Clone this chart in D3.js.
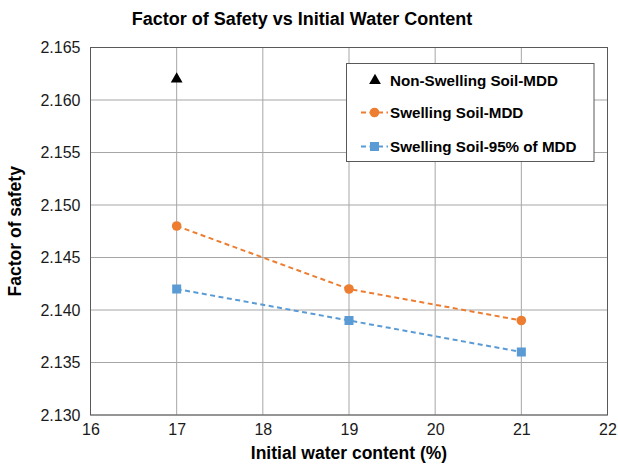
<!DOCTYPE html>
<html>
<head>
<meta charset="utf-8">
<script src="https://cdn.jsdelivr.net/npm/d3@7/dist/d3.min.js"></script>
<style>
  html, body { margin: 0; padding: 0; background: #fff; }
  svg { display: block; font-family: "Liberation Sans", Arial, sans-serif; }
</style>
</head>
<body>
<svg id="chart" width="618" height="466"></svg>
<script>
// Initial water content (%) at which each case was analysed
const waterContent = [17, 19, 21];
// Factor of safety for each soil case
const nonSwellingMDD = [2.162];          // only at 17 %
const swellingMDD = [2.148, 2.142, 2.139];
const swelling95MDD = [2.142, 2.139, 2.136];

const xTicks = [16, 17, 18, 19, 20, 21, 22];
const yTicks = [2.130, 2.135, 2.140, 2.145, 2.150, 2.155, 2.160, 2.165];

const seriesNames = ["Non-Swelling Soil-MDD", "Swelling Soil-MDD", "Swelling Soil-95% of MDD"];
const seriesColors = ["#000000", "#ED7D31", "#5B9BD5"];

const svg = d3.select("#chart");
const margin = { left: 90.5, right: 618 - 607.5, top: 47.5, bottom: 466 - 415 };
const W = 618, H = 466;

const x = d3.scaleLinear().domain([16, 22]).range([margin.left, W - margin.right]);
const y = d3.scaleLinear().domain([2.130, 2.165]).range([H - margin.bottom, margin.top]);

// grid lines
const grid = svg.append("g");
grid.selectAll("line.h").data(yTicks).join("line")
  .attr("x1", x(16)).attr("x2", x(22))
  .attr("y1", d => y(d)).attr("y2", d => y(d))
  .attr("stroke", "#a6a6a6").attr("stroke-width", 1);
grid.selectAll("line.v").data(xTicks).join("line")
  .attr("x1", d => x(d)).attr("x2", d => x(d))
  .attr("y1", y(2.130)).attr("y2", y(2.165))
  .attr("stroke", "#a6a6a6").attr("stroke-width", 1);

// plot border
svg.append("rect")
  .attr("x", x(16)).attr("y", y(2.165))
  .attr("width", x(22) - x(16)).attr("height", y(2.130) - y(2.165))
  .attr("fill", "none").attr("stroke", "#595959").attr("stroke-width", 1);

// axes
const xAxis = d3.axisBottom(x).tickValues(xTicks).tickSize(0).tickPadding(9).tickFormat(d3.format("d"));
const yAxis = d3.axisLeft(y).tickValues(yTicks).tickSize(0).tickPadding(10).tickFormat(d3.format(".3f"));

const gx = svg.append("g").attr("transform", `translate(0,${y(2.130)})`).call(xAxis);
const gy = svg.append("g").attr("transform", `translate(${x(16)},0)`).call(yAxis);
[gx, gy].forEach(g => {
  g.select(".domain").remove();
  g.selectAll("text").attr("font-size", 16).attr("fill", "#1a1a1a")
    .attr("font-family", "Liberation Sans, Arial, sans-serif");
});

// series lines
const line = d3.line().x(d => x(d[0])).y(d => y(d[1]));
const sMDD = waterContent.map((w, i) => [w, swellingMDD[i]]);
const s95 = waterContent.map((w, i) => [w, swelling95MDD[i]]);

svg.append("path").datum(sMDD).attr("d", line)
  .attr("fill", "none").attr("stroke", seriesColors[1]).attr("stroke-width", 2)
  .attr("stroke-dasharray", "5,3.5");
svg.append("path").datum(s95).attr("d", line)
  .attr("fill", "none").attr("stroke", seriesColors[2]).attr("stroke-width", 2)
  .attr("stroke-dasharray", "5,3.5");

// markers
const tri = d3.symbol().type(d3.symbolTriangle).size(60);
svg.append("g").selectAll("path").data(nonSwellingMDD).join("path")
  .attr("d", tri)
  .attr("transform", (d, i) => `translate(${x(waterContent[i])},${y(d)})`)
  .attr("fill", seriesColors[0]);

svg.append("g").selectAll("circle").data(sMDD).join("circle")
  .attr("cx", d => x(d[0])).attr("cy", d => y(d[1])).attr("r", 4.8)
  .attr("fill", seriesColors[1]);

svg.append("g").selectAll("rect").data(s95).join("rect")
  .attr("x", d => x(d[0]) - 4.5).attr("y", d => y(d[1]) - 4.5)
  .attr("width", 9).attr("height", 9)
  .attr("fill", seriesColors[2]);

// title
svg.append("text")
  .attr("x", 302).attr("y", 25)
  .attr("text-anchor", "middle")
  .attr("font-size", 18).attr("font-weight", "bold")
  .text("Factor of Safety vs Initial Water Content");

// axis titles
svg.append("text")
  .attr("x", (x(16) + x(22)) / 2).attr("y", 459)
  .attr("text-anchor", "middle")
  .attr("font-size", 17.5).attr("font-weight", "bold")
  .text("Initial water content (%)");

svg.append("text")
  .attr("transform", `translate(21,${(y(2.130) + y(2.165)) / 2}) rotate(-90)`)
  .attr("text-anchor", "middle")
  .attr("font-size", 17.5).attr("font-weight", "bold")
  .text("Factor of safety");

// legend
const lg = svg.append("g");
lg.append("rect")
  .attr("x", 346.5).attr("y", 63.5).attr("width", 247.5).attr("height", 98)
  .attr("fill", "#fff").attr("stroke", "#595959").attr("stroke-width", 1);

const rowsY = [80.5, 112.5, 146.5];
seriesNames.forEach((name, i) => {
  const cy = rowsY[i];
  if (i === 0) {
    lg.append("path").attr("d", tri)
      .attr("transform", `translate(375,${cy})`).attr("fill", seriesColors[0]);
  } else {
    lg.append("line").attr("x1", 361).attr("x2", 388).attr("y1", cy).attr("y2", cy)
      .attr("stroke", seriesColors[i]).attr("stroke-width", 2).attr("stroke-dasharray", "5,3.5");
    if (i === 1) {
      lg.append("circle").attr("cx", 374.5).attr("cy", cy).attr("r", 4.8).attr("fill", seriesColors[i]);
    } else {
      lg.append("rect").attr("x", 370).attr("y", cy - 4.5).attr("width", 9).attr("height", 9)
        .attr("fill", seriesColors[i]);
    }
  }
  lg.append("text").attr("x", 390).attr("y", cy + 5.5)
    .attr("font-size", 15.2).attr("font-weight", "bold")
    .text(name);
});
</script>
</body>
</html>
